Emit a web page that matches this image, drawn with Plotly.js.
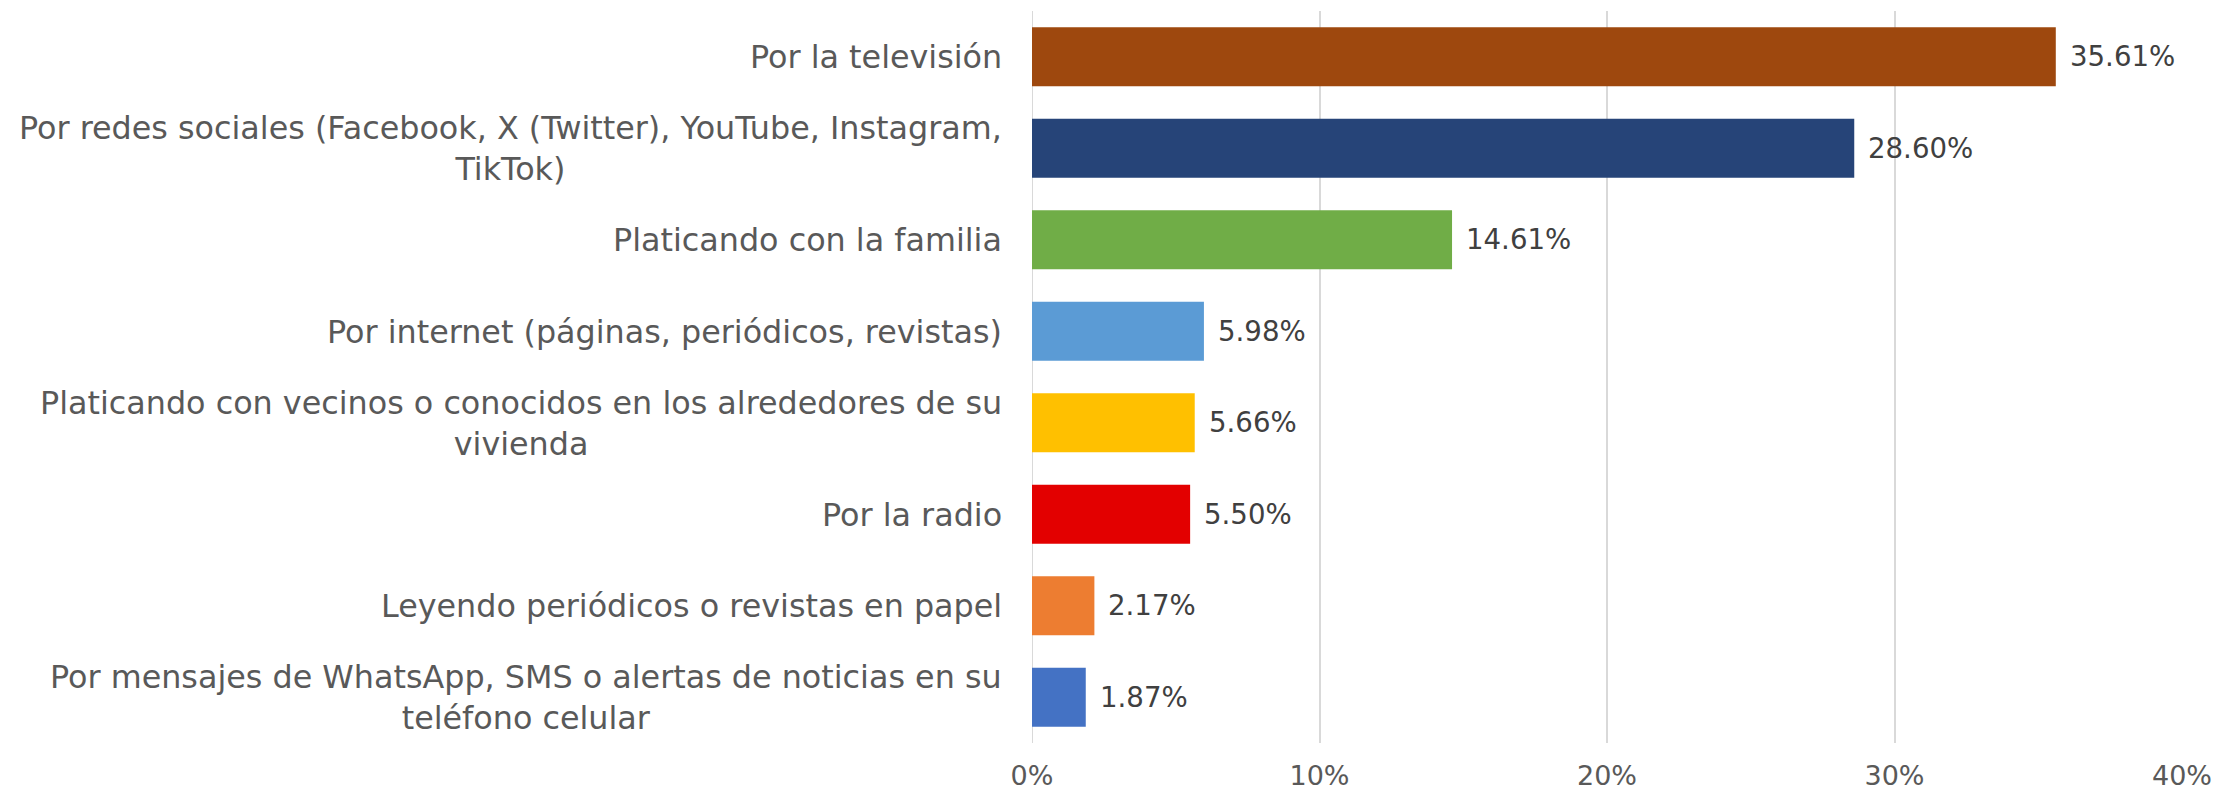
<!DOCTYPE html>
<html>
<head>
<meta charset="utf-8">
<script src="https://cdn.plot.ly/plotly-3.0.1.min.js"></script>
<style>html,body{margin:0;padding:0;background:#fff;}#chart{width:2229px;height:791px;}</style>
</head>
<body>
<div id="chart"></div>
<script>
const categories = [
  "Por la televisión",
  "Por redes sociales (Facebook, X (Twitter), YouTube, Instagram,<br>TikTok)",
  "Platicando con la familia",
  "Por internet (páginas, periódicos, revistas)",
  "Platicando con vecinos o conocidos en los alrededores de su<br>vivienda",
  "Por la radio",
  "Leyendo periódicos o revistas en papel",
  "Por mensajes de WhatsApp, SMS o alertas de noticias en su<br>teléfono celular"
];
const values = [35.61, 28.60, 14.61, 5.98, 5.66, 5.50, 2.17, 1.87];
const colors = ["#9E480E", "#264478", "#70AD47", "#5B9BD5", "#FFC000", "#E30000", "#ED7D31", "#4472C4"];
const tickVals = [0, 10, 20, 30, 40];
const tickText = ["0%", "10%", "20%", "30%", "40%"];

const labelFont = {family: "DejaVu Sans", size: 31.8, color: "#595959"};
const tickFont = {family: "DejaVu Sans", size: 27, color: "#595959"};
const valueFont = {family: "DejaVu Sans", size: 27.6, color: "#404040"};

const trace = {
  type: "bar",
  orientation: "h",
  x: values,
  y: categories,
  marker: {color: colors},
  hoverinfo: "none",
  cliponaxis: false
};

const annotations = [];
categories.forEach((c, i) => {
  annotations.push({
    xref: "paper", yref: "y", x: 0, y: c,
    xanchor: "right", yanchor: "middle", align: "center",
    xshift: -28, showarrow: false, text: c, font: labelFont
  });
  annotations.push({
    xref: "x", yref: "y", x: values[i], y: c,
    xanchor: "left", yanchor: "middle",
    xshift: 12, showarrow: false, text: values[i].toFixed(2) + "%", font: valueFont
  });
});

const layout = {
  width: 2229, height: 791,
  margin: {l: 1032, r: 47, t: 11, b: 48},
  paper_bgcolor: "#fff", plot_bgcolor: "#fff",
  showlegend: false,
  bargap: 0.355,
  xaxis: {
    range: [0, 40], tickvals: tickVals, ticktext: tickText,
    showgrid: true, gridcolor: "#D9D9D9", gridwidth: 2,
    zeroline: false, showline: false, ticks: "",
    tickfont: tickFont, ticklabelstandoff: 14, fixedrange: true
  },
  yaxis: {
    type: "category", autorange: "reversed", showticklabels: false,
    showgrid: false, zeroline: false, showline: false, ticks: "", fixedrange: true
  },
  shapes: [{type: "line", xref: "x", yref: "paper", x0: 0, x1: 0, y0: 0, y1: 1,
            line: {color: "#D9D9D9", width: 2}, layer: "below"}],
  annotations: annotations
};

Plotly.newPlot("chart", [trace], layout, {displayModeBar: false, staticPlot: true});
</script>
</body>
</html>
